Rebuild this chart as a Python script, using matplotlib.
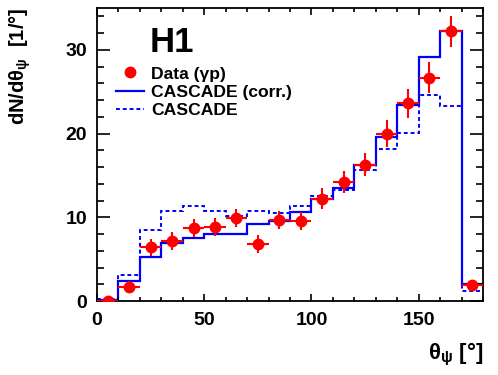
import matplotlib
matplotlib.use("Agg")
import matplotlib.pyplot as plt
from matplotlib.lines import Line2D
from matplotlib.ticker import MultipleLocator

plt.rcParams['font.family'] = ['Liberation Sans', 'DejaVu Sans']
plt.rcParams['font.weight'] = 'bold'
plt.rcParams['mathtext.fontset'] = 'custom'
plt.rcParams['mathtext.rm'] = 'Liberation Sans'
plt.rcParams['mathtext.default'] = 'regular'

# bins in theta_psi (degrees)
edges = [0, 10, 20, 30, 40, 50, 60, 70, 80, 90, 100, 110, 120, 130, 140, 150, 160, 170, 180]
centers = [5, 15, 25, 35, 45, 55, 65, 75, 85, 95, 105, 115, 125, 135, 145, 155, 165, 175]

# data (gamma p)
data = [0.05, 1.7, 6.4, 7.2, 8.7, 8.85, 9.9, 6.8, 9.7, 9.55, 12.2, 14.2, 16.3, 20.0, 23.6, 26.7, 32.2, 1.9]
data_err = [0.2, 0.75, 1.0, 1.1, 1.1, 1.1, 1.1, 1.05, 1.1, 1.1, 1.25, 1.3, 1.4, 1.6, 1.7, 1.9, 1.9, 0.5]
half_bin = [5] * 18

# MC predictions
cascade_corr = [0.1, 2.4, 5.3, 6.9, 7.5, 8.0, 8.05, 9.2, 9.6, 10.6, 12.2, 13.5, 16.3, 19.6, 23.4, 29.2, 32.3, 2.0]
cascade = [0.25, 3.1, 8.5, 10.8, 11.3, 10.75, 10.15, 10.8, 10.5, 11.35, 12.5, 13.3, 15.7, 18.1, 20.1, 24.6, 23.3, 1.2]

fig = plt.figure(figsize=(4.98, 3.75), dpi=100)
ax = fig.add_axes([0.1948, 0.1973, 0.7751, 0.7813])

ax.stairs(cascade, edges, baseline=None, color='blue', lw=1.4, ls=(0, (2, 1.5)))
ax.stairs(cascade_corr, edges, baseline=None, color='blue', lw=1.6)
ax.errorbar(centers, data, yerr=data_err, xerr=half_bin, fmt='o', color='red',
            ms=7.5, elinewidth=1.5, capsize=0, zorder=5)

ax.set_xlim(0, 180)
ax.set_ylim(0, 35)
ax.xaxis.set_major_locator(MultipleLocator(50))
ax.xaxis.set_minor_locator(MultipleLocator(10))
ax.yaxis.set_major_locator(MultipleLocator(10))
ax.yaxis.set_minor_locator(MultipleLocator(2))
ax.tick_params(which='both', direction='in', top=True, right=True, width=1.2, labelsize=14)
ax.tick_params(axis='x', which='major', length=5, pad=8)
ax.tick_params(axis='x', which='minor', length=3)
ax.tick_params(axis='y', which='major', length=9.5, pad=7)
ax.tick_params(axis='y', which='minor', length=5)
for s in ax.spines.values():
    s.set_linewidth(1.3)

ax.set_ylabel('dN/dθ$_{ψ}$  [1/°]', fontsize=14.5, fontweight='bold', loc='top')
ax.yaxis.set_label_coords(-0.165, 1.0)
ax.set_xlabel(r'$\mathrm{θ_{ψ}}$ [°]', fontsize=16, fontweight='bold', loc='right')
ax.xaxis.set_label_coords(1.0, -0.135)

ax.text(0.137, 0.85, 'H1', transform=ax.transAxes, fontsize=25, fontweight='bold')

handles = [Line2D([], [], marker='o', color='red', ls='none', ms=7.5),
           Line2D([], [], color='blue', lw=1.6),
           Line2D([], [], color='blue', lw=1.4, ls=(0, (2, 1.5)))]
labels = ['Data (γp)', 'CASCADE (corr.)', 'CASCADE']
ax.legend(handles, labels, loc='upper left', bbox_to_anchor=(0.03, 0.825), frameon=False,
          fontsize=12.6, handlelength=1.6, handletextpad=0.45, labelspacing=0.18,
          borderaxespad=0)

fig.savefig('out.png', dpi=100)
